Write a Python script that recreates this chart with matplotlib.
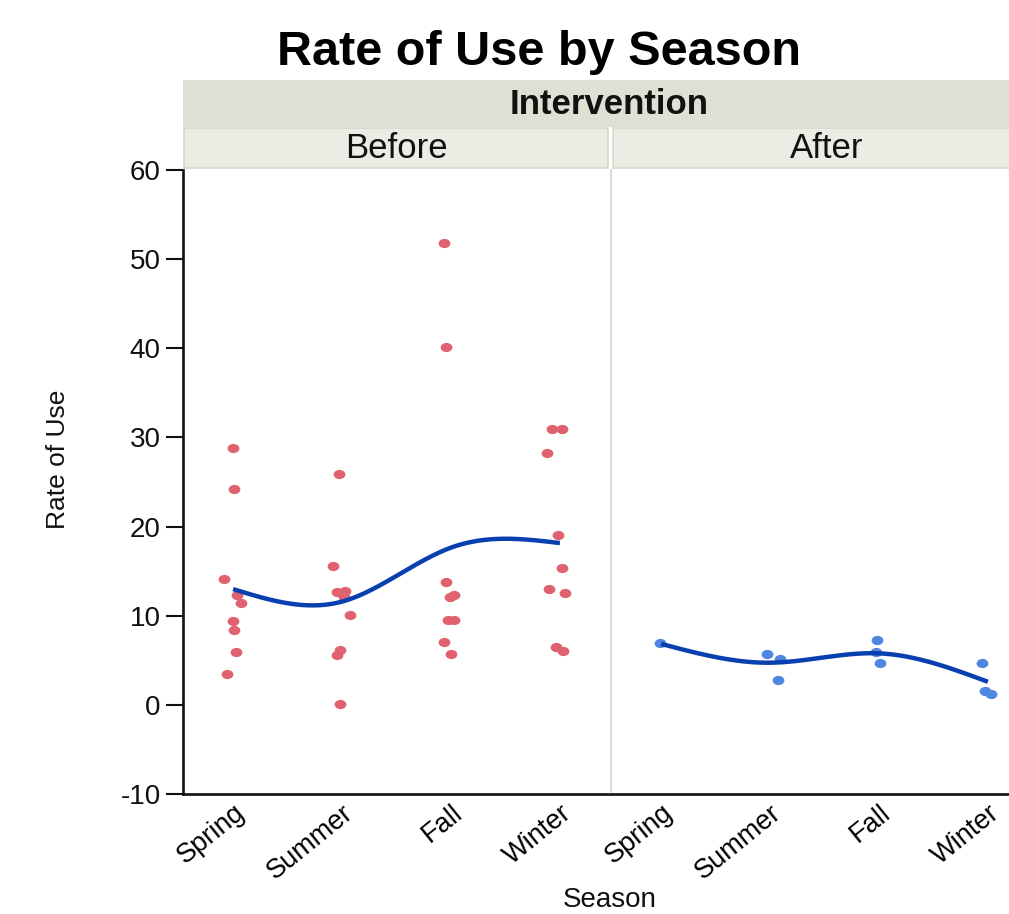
import numpy as np
import matplotlib
matplotlib.use("Agg")
import matplotlib.pyplot as plt
from matplotlib.patches import Rectangle
from matplotlib.path import Path
from matplotlib.transforms import Affine2D, ScaledTranslation

plt.rcParams["font.family"] = ["Liberation Sans", "DejaVu Sans"]

# ---- data -------------------------------------------------------------
seasons = ["Spring", "Summer", "Fall", "Winter"]
panels = ["Before", "After"]

before_season = (["Spring"] * 9 + ["Summer"] * 9 + ["Fall"] * 9 + ["Winter"] * 9)
before_rate = [28.8, 24.2, 14.1, 12.3, 11.4, 9.4, 8.4, 5.9, 3.5,
               25.9, 15.6, 12.7, 12.8, 12.1, 10.1, 6.1, 5.6, 0.1,
               51.8, 40.1, 13.8, 12.1, 12.3, 9.5, 9.5, 7.0, 5.7,
               30.9, 30.9, 28.2, 19.0, 15.3, 13.0, 12.6, 6.5, 6.0]
before_jitter = [0.00, 0.01, -0.08, 0.04, 0.07, 0.00, 0.01, 0.03, -0.06,
                 -0.03, -0.08, -0.05, 0.03, 0.02, 0.07, -0.02, -0.05, -0.02,
                 -0.06, -0.05, -0.05, -0.01, 0.03, -0.03, 0.03, -0.06, 0.00,
                 -0.07, 0.02, -0.12, -0.02, 0.02, -0.10, 0.05, -0.04, 0.03]

after_season = ["Spring"] + ["Summer"] * 3 + ["Fall"] * 3 + ["Winter"] * 3
after_rate = [6.9,
              5.7, 5.1, 2.8,
              7.3, 5.9, 4.75,
              4.75, 1.6, 1.2]
after_jitter = [-0.01,
                -0.03, 0.09, 0.07,
                -0.02, -0.03, 0.01,
                -0.05, -0.03, 0.03]

y_ticks = [-10, 0, 10, 20, 30, 40, 50, 60]

# ---- styling ------------------------------------------------------------
W, H = 1009, 914
point_colors = {"Before": "#E0616F", "After": "#4F86E2"}
line_color = "#0840B0"
strip_top = "#E0DFD4"
strip_sub = "#ECEBE4"
strip_edge = "#D9D8CD"


def fx(px):
    return px / W


def fy(py):
    return 1 - py / H


def smoothing_spline(xk, yk, lam, n=300):
    """Natural cubic smoothing spline (Reinsch form) evaluated on a grid."""
    xk = np.asarray(xk, float)
    yk = np.asarray(yk, float)
    m = len(xk)
    h = np.diff(xk)
    Q = np.zeros((m, m - 2))
    R = np.zeros((m - 2, m - 2))
    for j in range(1, m - 1):
        Q[j - 1, j - 1] = 1 / h[j - 1]
        Q[j, j - 1] = -1 / h[j - 1] - 1 / h[j]
        Q[j + 1, j - 1] = 1 / h[j]
        R[j - 1, j - 1] = (h[j - 1] + h[j]) / 3
        if j < m - 2:
            R[j - 1, j] = R[j, j - 1] = h[j] / 6
    K = Q @ np.linalg.solve(R, Q.T)
    g = np.linalg.solve(np.eye(m) + lam * K, yk)
    gam = np.zeros(m)
    gam[1:-1] = np.linalg.solve(R, Q.T @ g)
    xs = np.linspace(xk[0], xk[-1], n)
    i = np.clip(np.searchsorted(xk, xs, side="right") - 1, 0, m - 2)
    x0, x1 = xk[i], xk[i + 1]
    hh = x1 - x0
    a = (x1 - xs) / hh
    b = (xs - x0) / hh
    ys = a * g[i] + b * g[i + 1] + ((a ** 3 - a) * gam[i] + (b ** 3 - b) * gam[i + 1]) * hh ** 2 / 6
    return xs, ys


# slightly wide elliptical point marker
ellipse = Path.unit_circle().transformed(Affine2D().scale(1.28, 1.0))

fig = plt.figure(figsize=(W / 100, H / 100), dpi=100)

panel_left = {"Before": 183, "After": 611}
panel_w = 427
ax_top, ax_bottom = 170, 794

data = {
    "Before": (before_season, before_rate, before_jitter),
    "After": (after_season, after_rate, after_jitter),
}

axes = {}
for name in panels:
    ax = fig.add_axes([fx(panel_left[name]), fy(ax_bottom),
                       panel_w / W, (ax_bottom - ax_top) / H])
    axes[name] = ax
    season, rate, jitter = data[name]
    xpos = np.array([seasons.index(s) for s in season], float)
    ax.scatter(xpos + np.array(jitter), rate, s=72, marker=ellipse,
               color=point_colors[name], linewidths=0, zorder=3)

    means = [np.mean([r for s, r in zip(season, rate) if s == c]) for c in seasons]
    xs, ys = smoothing_spline(np.arange(len(seasons)), means, lam=0.009)
    ax.plot(xs, ys, color=line_color, lw=3.2, solid_capstyle="butt", zorder=4)

    ax.set_xlim(-0.46, 3.46)
    ax.set_ylim(-10, 60)
    ax.set_xticks(range(len(seasons)))
    ax.set_xticklabels(seasons, rotation=39, ha="right", va="top",
                       rotation_mode="anchor", fontsize=19.5)
    offset = ScaledTranslation(0.19, -0.03, fig.dpi_scale_trans)
    for lbl in ax.get_xticklabels():
        lbl.set_transform(lbl.get_transform() + offset)
    ax.tick_params(axis="x", length=0, pad=4)

    for side in ("top", "right"):
        ax.spines[side].set_visible(False)
    ax.spines["bottom"].set_linewidth(1.9)
    ax.spines["bottom"].set_color("#111111")

    if name == "Before":
        ax.set_yticks(y_ticks)
        ax.set_yticklabels([str(t) for t in y_ticks], fontsize=20)
        ax.tick_params(axis="y", length=12, width=1.5, pad=4, colors="#111111")
        ax.spines["left"].set_linewidth(1.9)
        ax.spines["left"].set_color("#111111")
    else:
        # light divider between the two panels
        ax.set_yticks([])
        ax.spines["left"].set_color("#D9D9D9")
        ax.spines["left"].set_linewidth(1.4)

# ---- strip headers ---------------------------------------------------------
fig.add_artist(Rectangle((fx(183), fy(127)), fx(1040) - fx(183), (127 - 80) / H,
                         transform=fig.transFigure, facecolor=strip_top,
                         edgecolor="none", zorder=0))
for name, x0, x1 in (("Before", 184, 608), ("After", 613, 1040)):
    fig.add_artist(Rectangle((fx(x0), fy(168)), fx(x1) - fx(x0), (168 - 128) / H,
                             transform=fig.transFigure, facecolor=strip_sub,
                             edgecolor=strip_edge, linewidth=1.2, zorder=0))
    fig.text(fx((x0 + x1) / 2), fy(157.5), name, ha="center", va="baseline",
             fontsize=25, color="#111111")

fig.text(fx(609), fy(113.5), "Intervention", ha="center", va="baseline",
         fontsize=25, fontweight="bold", color="#111111")

# ---- titles and axis labels ------------------------------------------------
fig.text(fx(539), fy(65), "Rate of Use by Season", ha="center", va="baseline",
         fontsize=35, fontweight="bold", color="black")
fig.text(fx(58), fy(459), "Rate of Use", rotation=90, ha="center", va="center",
         fontsize=19, color="#111111")
fig.text(fx(610), fy(913), "Season", ha="center", va="bottom",
         fontsize=20, color="#111111")

fig.savefig("out.png", dpi=100)
